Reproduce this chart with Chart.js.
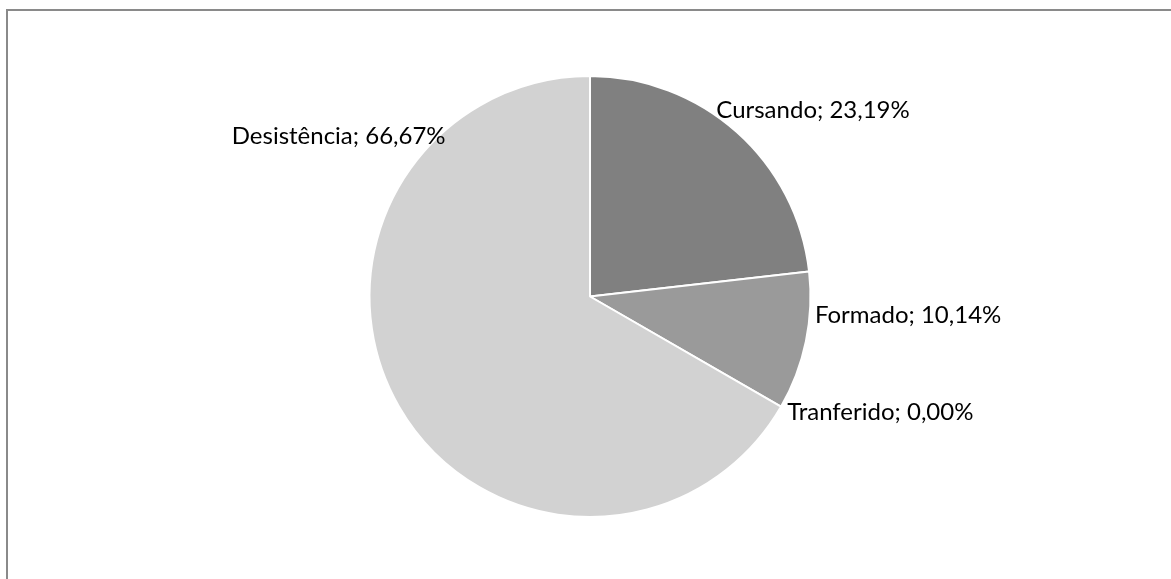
<!DOCTYPE html>
<html>
<head>
<meta charset="utf-8">
<script src="https://cdn.jsdelivr.net/npm/chart.js@4/dist/chart.umd.min.js"></script>
<style>
  html, body { margin: 0; padding: 0; background: #fff; overflow: hidden; }
  #frame {
    position: absolute; left: 6px; top: 9px;
    width: 1200px; height: 620px;
    border: 2px solid #8a8a8a;
  }
  #wrap { position: absolute; left: 0; top: 0; width: 1171px; height: 579px; }
</style>
</head>
<body>
<div id="frame"></div>
<div id="wrap"><canvas id="situacaoChart"></canvas></div>
<script>
// Situação dos alunos (%)
const categorias = ['Cursando', 'Formado', 'Tranferido', 'Desistência'];
const percentuais = [23.19, 10.14, 0.00, 66.67];
const cores = ['#808080', '#9a9a9a', '#bdbdbd', '#d2d2d2'];

// posição do rótulo (linha de base) em relação ao centro, em unidades de raio
const rotulos = [
    { x: 0.573, y: -0.810, align: 'left' },
    { x: 1.020, y: 0.120, align: 'left' },
    { x: 0.894, y: 0.558, align: 'left' },
    { x: -0.655, y: -0.693, align: 'right' }
];

function formatar(v) {
    return v.toFixed(2).replace('.', ',') + '%';
}

// Plugin simples para desenhar os rótulos "Categoria; xx,xx%"
const rotulosPlugin = {
    id: 'rotulos',
    afterDatasetsDraw(chart) {
        const ctx = chart.ctx;
        const meta = chart.getDatasetMeta(0);
        ctx.save();
        ctx.font = '24px Lato, "Open Sans", sans-serif';
        ctx.fillStyle = '#000';
        ctx.textBaseline = 'alphabetic';
        meta.data.forEach(function(arc, i) {
            const r = arc.outerRadius;
            const pos = rotulos[i];
            ctx.textAlign = pos.align;
            ctx.fillText(
                categorias[i] + '; ' + formatar(percentuais[i]),
                arc.x + pos.x * r,
                arc.y + pos.y * r
            );
        });
        ctx.restore();
    }
};

new Chart(document.getElementById('situacaoChart'), {
    type: 'pie',
    data: {
        labels: categorias,
        datasets: [{
            data: percentuais,
            backgroundColor: cores,
            borderColor: '#FFFFFF',
            borderWidth: 2
        }]
    },
    options: {
        responsive: true,
        maintainAspectRatio: false,
        animation: false,
        layout: { padding: { top: 75, bottom: 61, left: 9, right: 0 } },
        plugins: {
            legend: { display: false },
            tooltip: { enabled: false }
        }
    },
    plugins: [rotulosPlugin]
});
</script>
</body>
</html>
